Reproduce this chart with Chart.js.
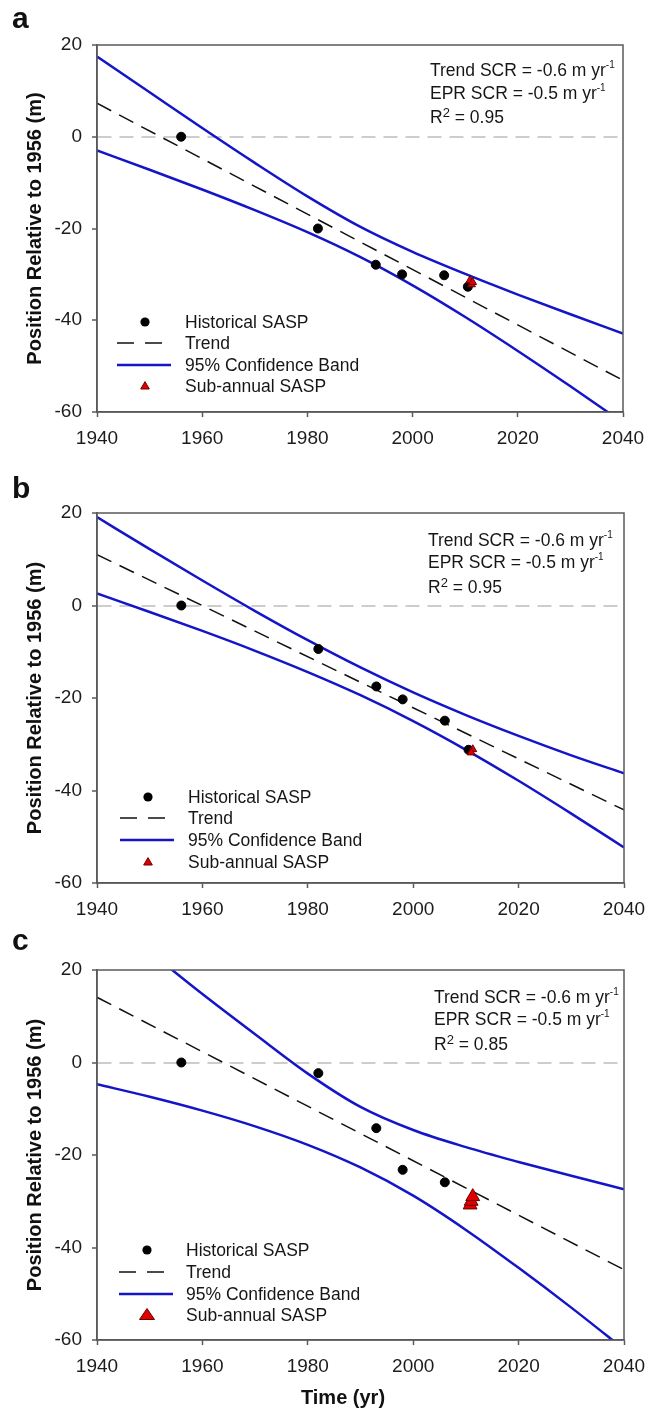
<!DOCTYPE html>
<html>
<head>
<meta charset="utf-8">
<script src="https://cdn.jsdelivr.net/npm/chart.js@4.4.1/dist/chart.umd.min.js"></script>
<style>
  body { margin: 0; background: #fff; font-family: 'Liberation Sans', Arial, sans-serif; color: #111; }
  #page { position: relative; width: 662px; height: 1408px; }
  .panel { position: absolute; left: 0; width: 662px; }
  .panel canvas { position: absolute; left: 0; top: 0; }
  .letter { position: absolute; font-size: 30px; font-weight: bold; line-height: 30px; }
  .txt { position: absolute; font-size: 17.5px; line-height: 20px; white-space: nowrap; color: #161616; }
  .txt .e { font-size: 10px; vertical-align: 8px; }
  .txt .r2 { font-size: 13px; vertical-align: 6px; }
  .sym { position: absolute; width: 70px; height: 20px; }
  .xtitle { position: absolute; left: 0; width: 686px; text-align: center; font-size: 20px; font-weight: bold; line-height: 24px; }
</style>
</head>
<body>
<div id="page">
  <div class="panel" id="pa" style="top:0;height:460px"><canvas id="ca" width="662" height="460"></canvas></div>
  <div class="panel" id="pb" style="top:460px;height:460px"><canvas id="cb" width="662" height="460"></canvas></div>
  <div class="panel" id="pc" style="top:920px;height:488px"><canvas id="cc" width="662" height="488"></canvas></div>
</div>
<script>
// ---- data ----
const xTicks = [1940, 1960, 1980, 2000, 2020, 2040];
const yTicks = [-60, -40, -20, 0, 20];
const bandYears = [1940, 1950, 1960, 1970, 1980, 1990, 2000, 2010, 2020, 2030, 2040];
const trendYears = [1940, 2040];
const panelLetters = ['a', 'b', 'c'];
const trendSCR = ['-0.6', '-0.6', '-0.6'];
const eprSCR = ['-0.5', '-0.5', '-0.5'];
const rSquared = ['0.95', '0.95', '0.85'];
const legendLabels = ['Historical SASP', 'Trend', '95% Confidence Band', 'Sub-annual SASP'];

// panel a
const histYearsA = [1956, 1982, 1993, 1998, 2006, 2010.5];
const histPosA = [0, -20, -27.9, -30, -30.2, -32.7];
const subYearsA = [2010.9, 2011.2, 2011.4];
const subPosA = [-31.3, -32.2, -31.7];
const trendA = [7.3, -53.1];
const upperA = [17.5, 9.7, 1.9, -5.7, -13.0, -19.6, -25.1, -29.9, -34.4, -38.7, -42.9];
const lowerA = [-3.0, -7.2, -11.5, -16.0, -20.8, -26.2, -32.4, -39.3, -46.7, -54.4, -62.3];

// panel b
const histYearsB = [1956, 1982, 1993, 1998, 2006, 2010.5];
const histPosB = [0, -9.4, -17.5, -20.3, -24.9, -31.2];
const subYearsB = [2011.3, 2011.0];
const subPosB = [-31.1, -31.8];
const trendB = [11.0, -44.2];
const upperB = [19.1, 12.2, 5.4, -1.2, -7.5, -13.4, -18.8, -23.7, -28.2, -32.4, -36.3];
const lowerB = [2.6, -1.4, -5.5, -9.8, -14.4, -19.4, -25.0, -31.2, -37.9, -45.0, -52.3];

// panel c
const histYearsC = [1956, 1982, 1993, 1998, 2006];
const histPosC = [0, -2.3, -14.2, -23.2, -25.9];
const subYearsC = [2010.8, 2011.0, 2011.3];
const subPosC = [-30.8, -30.0, -29.0];
const trendC = [14.1, -44.8];
const upperC = [32.9, 23.9, 14.8, 6.1, -2.4, -9.6, -14.6, -18.3, -21.5, -24.5, -27.4];
const lowerC = [-4.7, -7.4, -10.4, -13.8, -17.8, -22.7, -28.8, -36.2, -44.4, -53.0, -62.0];

// ---- styling / layout ----
const blue = '#1414c8';
const axisCol = '#5a5a5a';
const zeroCol = '#cdcdcd';
const fontFam = "'Liberation Sans', Arial, sans-serif";

Chart.defaults.font.family = fontFam;

function pairs(xs, ys) {
  return xs.map((x, i) => ({ x: x, y: ys[i] }));
}

const framePlugin = {
  id: 'frame',
  afterDatasetsDraw(chart) {
    const a = chart.chartArea;
    const ctx = chart.ctx;
    ctx.save();
    ctx.strokeStyle = axisCol;
    ctx.lineWidth = 1.5;
    ctx.strokeRect(a.left, a.top, a.right - a.left, a.bottom - a.top);
    ctx.restore();
  }
};

function makeChart(canvasId, d, box) {
  return new Chart(document.getElementById(canvasId), {
    type: 'scatter',
    data: {
      datasets: [
        { label: legendLabels[3], data: pairs(d.subYears, d.sub), pointStyle: 'triangle',
          pointRadius: box.tri, backgroundColor: '#e00000', borderColor: '#6a0000', borderWidth: 1 },
        { label: legendLabels[0], data: pairs(d.histYears, d.hist), pointRadius: 4.5,
          backgroundColor: '#000', borderColor: '#000' },
        { label: legendLabels[1], data: pairs(trendYears, d.trend), showLine: true, pointRadius: 0,
          borderColor: '#111', borderWidth: 1.5, borderDash: [16, 9] },
        { label: 'upper', data: pairs(bandYears, d.upper), showLine: true, pointRadius: 0,
          borderColor: blue, borderWidth: 2.5, cubicInterpolationMode: 'monotone' },
        { label: 'lower', data: pairs(bandYears, d.lower), showLine: true, pointRadius: 0,
          borderColor: blue, borderWidth: 2.5, cubicInterpolationMode: 'monotone' }
      ]
    },
    options: {
      responsive: false,
      animation: false,
      events: [],
      layout: { padding: { left: 0, top: box.top, right: 662 - box.right, bottom: 0 } },
      plugins: { legend: { display: false }, tooltip: { enabled: false } },
      scales: {
        x: {
          type: 'linear', min: 1940, max: 2040,
          afterBuildTicks: s => { s.ticks = xTicks.map(v => ({ value: v })); },
          afterFit: s => { s.height = box.h - box.bottom; },
          ticks: { font: { size: 19 }, color: '#1c1c1c', padding: 10, maxRotation: 0, autoSkip: false,
                   callback: v => String(v) },
          grid: { drawOnChartArea: false, tickLength: 5, tickColor: axisCol, tickWidth: 1.5 },
          border: { color: axisCol, width: 1.5 }
        },
        y: {
          type: 'linear', min: -60, max: 20,
          afterBuildTicks: s => { s.ticks = yTicks.map(v => ({ value: v })); },
          afterFit: s => { s.width = 97; },
          ticks: { font: { size: 19 }, color: '#1c1c1c', padding: 10, callback: v => String(v) },
          grid: {
            color: c => (c.tick && c.tick.value === 0 ? zeroCol : 'rgba(0,0,0,0)'),
            lineWidth: 2, tickLength: 5, tickColor: axisCol, tickWidth: 1.5
          },
          border: { color: axisCol, width: 1.5, dash: [14, 8] },
          title: { display: true, text: 'Position Relative to 1956 (m)', color: '#111',
                   font: { size: 20, weight: 'bold' }, padding: { top: 23, bottom: 0 } }
        }
      }
    },
    plugins: [framePlugin]
  });
}

function addText(host, cls, left, top, html) {
  const el = document.createElement('div');
  el.className = cls;
  el.style.left = left + 'px';
  el.style.top = top + 'px';
  el.innerHTML = html;
  host.appendChild(el);
  return el;
}

function addLegend(host, lg, bigTri) {
  const tri = bigTri
    ? '<polygon points="30,3.5 37.5,14.5 22.5,14.5" fill="#e00000" stroke="#6a0000" stroke-width="1"/>'
    : '<polygon points="30,5.6 34.3,13 25.7,13" fill="#e00000" stroke="#6a0000" stroke-width="1"/>';
  const syms = [
    '<circle cx="30" cy="10" r="4.6" fill="#000"/>',
    '<line x1="2" y1="10" x2="48" y2="10" stroke="#111" stroke-width="1.5" stroke-dasharray="17 11"/>',
    '<line x1="2" y1="10" x2="56" y2="10" stroke="' + blue + '" stroke-width="2.5"/>',
    tri
  ];
  lg.rows.forEach((cy, i) => {
    const s = document.createElement('div');
    s.className = 'sym';
    s.style.left = lg.symLeft + 'px';
    s.style.top = (cy - 10) + 'px';
    s.innerHTML = '<svg width="70" height="20">' + syms[i] + '</svg>';
    host.appendChild(s);
    addText(host, 'txt', lg.textLeft, cy - 9.8, legendLabels[i]);
  });
}

const panels = [
  { host: 'pa', canvas: 'ca', box: { h: 460, top: 45, right: 623, bottom: 412, tri: 4.6 },
    d: { histYears: histYearsA, hist: histPosA, subYears: subYearsA, sub: subPosA, trend: trendA, upper: upperA, lower: lowerA },
    letterTop: 2.6, note: { left: 430, tops: [55, 78, 103] },
    legend: { symLeft: 115, textLeft: 185, rows: [322, 343, 365, 386] }, bigTri: false },
  { host: 'pb', canvas: 'cb', box: { h: 460, top: 53, right: 624, bottom: 423, tri: 4.6 },
    d: { histYears: histYearsB, hist: histPosB, subYears: subYearsB, sub: subPosB, trend: trendB, upper: upperB, lower: lowerB },
    letterTop: 12.6, note: { left: 428, tops: [65, 87, 113] },
    legend: { symLeft: 118, textLeft: 188, rows: [337, 358, 380, 402] }, bigTri: false },
  { host: 'pc', canvas: 'cc', box: { h: 488, top: 50, right: 624, bottom: 420, tri: 8 },
    d: { histYears: histYearsC, hist: histPosC, subYears: subYearsC, sub: subPosC, trend: trendC, upper: upperC, lower: lowerC },
    letterTop: 4.6, note: { left: 434, tops: [62, 84, 110] },
    legend: { symLeft: 117, textLeft: 186, rows: [330, 352, 374, 395] }, bigTri: true }
];

panels.forEach((p, i) => {
  makeChart(p.canvas, p.d, p.box);
  const host = document.getElementById(p.host);
  addText(host, 'letter', 12, p.letterTop, panelLetters[i]);
  addText(host, 'txt', p.note.left, p.note.tops[0], 'Trend SCR = ' + trendSCR[i] + ' m yr<span class="e">-1</span>');
  addText(host, 'txt', p.note.left, p.note.tops[1], 'EPR SCR = ' + eprSCR[i] + ' m yr<span class="e">-1</span>');
  addText(host, 'txt', p.note.left, p.note.tops[2], 'R<span class="r2">2</span> = ' + rSquared[i]);
  addLegend(host, p.legend, p.bigTri);
});

addText(document.getElementById('pc'), 'xtitle', 0, 465, 'Time (yr)');
</script>
</body>
</html>
